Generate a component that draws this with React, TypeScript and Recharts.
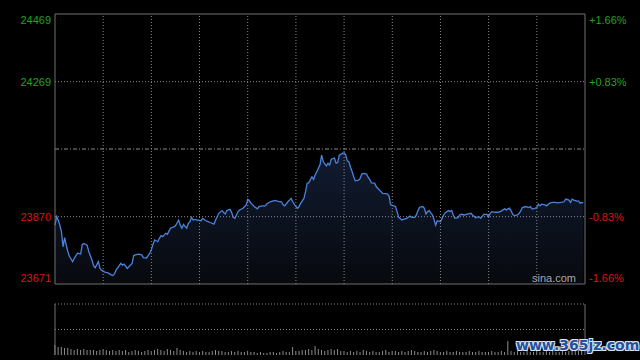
import { ComposedChart, Area, Bar, XAxis, YAxis, ReferenceLine } from 'recharts'

// Hang Seng intraday, minutes since 09:30 (330 trading minutes)
const minutes = [
  0, 1, 2, 3, 4, 5, 6, 7, 8, 9,
  11, 12, 14, 16, 17, 18, 20, 21, 23, 24,
  25, 27, 28, 29, 31, 33, 35, 36, 37, 38,
  40, 41, 42, 43, 45, 46, 48, 49, 50, 52,
  54, 55, 57, 59, 60, 61, 62, 64, 65, 66,
  67, 69, 70, 71, 72, 74, 75, 77, 78, 79,
  80, 82, 83, 84, 85, 86, 87, 89, 91, 92,
  94, 95, 97, 99, 100, 102, 104, 105, 106, 107,
  109, 110, 111, 112, 114, 115, 117, 119, 120, 121,
  122, 124, 126, 127, 129, 131, 132, 134, 136, 137,
  139, 141, 142, 143, 145, 146, 147, 148, 150, 151,
  152, 153, 155, 156, 157, 158, 160, 161, 162, 163,
  165, 166, 167, 168, 169, 170, 171, 172, 174, 175,
  176, 177, 179, 180, 181, 182, 183, 184, 185, 186,
  187, 189, 190, 191, 192, 194, 195, 196, 197, 199,
  200, 202, 203, 204, 206, 207, 208, 209, 211, 212,
  213, 214, 216, 217, 219, 220, 221, 222, 224, 225,
  226, 227, 229, 230, 231, 232, 233, 235, 236, 237,
  238, 240, 241, 242, 243, 245, 246, 247, 248, 249,
  251, 252, 253, 255, 256, 259, 260, 262, 264, 265,
  267, 269, 270, 271, 272, 274, 276, 278, 280, 281,
  283, 284, 285, 286, 288, 289, 290, 291, 293, 295,
  296, 297, 298, 300, 301, 302, 303, 305, 306, 308,
  310, 311, 313, 315, 317, 318, 320, 321, 322, 323,
  325, 326, 327, 328, 329,
]

const prices = [
  23845, 23870, 23860, 23845, 23826, 23781, 23808, 23786, 23767, 23752,
  23737, 23747, 23762, 23760, 23788, 23791, 23786, 23767, 23742, 23725,
  23719, 23737, 23717, 23712, 23706, 23704, 23698, 23696, 23700, 23712,
  23725, 23732, 23727, 23730, 23717, 23722, 23732, 23755, 23757, 23759,
  23757, 23749, 23748, 23762, 23772, 23788, 23801, 23796, 23806, 23814,
  23811, 23821, 23818, 23828, 23836, 23840, 23843, 23860, 23845, 23836,
  23847, 23836, 23850, 23855, 23868, 23860, 23862, 23860, 23858, 23865,
  23858, 23856, 23852, 23848, 23860, 23880, 23888, 23882, 23878, 23888,
  23892, 23882, 23868, 23865, 23885, 23890, 23895, 23905, 23921, 23917,
  23910, 23900, 23893, 23900, 23902, 23902, 23908, 23914, 23917, 23918,
  23915, 23914, 23905, 23902, 23914, 23919, 23924, 23914, 23900, 23895,
  23900, 23910, 23924, 23944, 23969, 23970, 23988, 23980, 23993, 24003,
  24023, 24052, 24033, 24026, 24020, 24028, 24023, 24040, 24043, 24028,
  24030, 24052, 24057, 24059, 24052, 24035, 24032, 24016, 24003, 23988,
  23976, 23978, 23983, 23996, 23998, 23996, 23986, 23980, 23970, 23969,
  23959, 23949, 23944, 23939, 23938, 23937, 23931, 23905, 23902, 23900,
  23885, 23868, 23860, 23862, 23865, 23868, 23872, 23868, 23868, 23875,
  23888, 23898, 23900, 23895, 23878, 23885, 23888, 23875, 23862, 23845,
  23858, 23855, 23865, 23875, 23882, 23888, 23885, 23888, 23875, 23865,
  23867, 23875, 23877, 23875, 23877, 23880, 23875, 23867, 23870, 23865,
  23877, 23877, 23870, 23880, 23885, 23883, 23883, 23887, 23893, 23890,
  23895, 23887, 23877, 23873, 23875, 23880, 23887, 23897, 23900, 23897,
  23900, 23893, 23893, 23897, 23907, 23902, 23907, 23905, 23902, 23910,
  23912, 23912, 23911, 23912, 23914, 23922, 23919, 23912, 23922, 23919,
  23916, 23916, 23910, 23912, 23911,
]

// volume per 2-minute bucket (relative units)
const volumes = [
  10, 8, 8, 7, 7,
  6, 5, 6, 5, 6, 5, 5,
  5, 4, 5, 6, 5, 4, 5, 4, 5,
  4, 5, 3, 4, 5, 4, 3, 4, 5, 4, 5, 6, 5, 4, 6, 5, 4,
  7,
  5, 4, 3, 4, 3, 4, 3, 4, 3, 3, 4,
  5, 4, 4, 3, 3, 4, 3, 4, 3, 3, 4, 3, 3, 2, 3,
  2, 2, 3, 3, 2, 3, 4, 3, 3,
  8,
  4, 4, 5, 5, 6, 5,
  9,
  6, 5, 4, 5, 6, 5, 6,
  4, 4, 3, 4, 3, 4, 3, 5, 4, 3, 4, 3, 3, 4, 5, 3, 4,
  4, 3, 4, 3, 4, 5, 4, 3, 3, 4, 3, 4, 5, 4, 3,
  3, 4, 3, 3, 4, 3, 3, 3, 4, 3, 3, 4, 3, 3, 3, 4, 3, 3, 4, 3,
  14,
  4, 3, 4, 3, 3, 4, 3, 3, 4, 3, 3, 4, 3, 4, 3, 3, 4, 3, 4, 4, 5, 5, 6,
]

const prevClose = 24070
const priceTicks = [23671, 23870, 24269, 24469]
const timeTicks = [30, 60, 90, 120, 150, 180, 210, 240, 270, 300]

const lineData = minutes.map((m, i) => ({ m, price: prices[i] }))
const volData = volumes.map((v, i) => ({ m: i * 2, vol: v }))

const GREEN = '#22a022'
const RED = '#dc1414'
const GRID = '#8a8a8a'
const BORDER = '#707070'
const FONT = '"Liberation Sans", Arial, sans-serif'

function dyFor(v: number) {
  if (v === priceTicks[priceTicks.length - 1]) return 6
  if (v === priceTicks[0]) return -6
  return 0
}

// draws the price on the left and the change vs. previous close on the right
function PriceTick(props: any) {
  const { y, payload } = props
  const v = payload.value
  const pct = ((v - prevClose) / prevClose) * 100
  const s = (pct > 0 ? '+' : '') + pct.toFixed(2) + '%'
  const color = v > prevClose ? GREEN : RED
  return (
    <g>
      <text x={51} y={y + dyFor(v)} textAnchor="end" dominantBaseline="central"
        fill={color} fontSize={11} fontFamily={FONT}>{v}</text>
      <text x={589} y={y + dyFor(v)} textAnchor="start" dominantBaseline="central"
        fill={color} fontSize={11} fontFamily={FONT}>{s}</text>
    </g>
  )
}

export default function App() {
  return (
    <div style={{ position: 'absolute', left: 0, top: 0, width: 640, height: 360, background: '#000', overflow: 'hidden' }}>
      <div style={{ position: 'absolute', left: 0, top: 0 }}>
        <ComposedChart width={640} height={300} data={lineData} margin={{ top: 14, right: 55, bottom: 16, left: 0 }}>
          <defs>
            <linearGradient id="areaFill" x1="0" y1="0" x2="0" y2="1">
              <stop offset="0%" stopColor="#111b31" stopOpacity={1} />
              <stop offset="100%" stopColor="#07090e" stopOpacity={1} />
            </linearGradient>
          </defs>
          <XAxis dataKey="m" type="number" domain={[0, 330]} hide />
          <YAxis orientation="left" width={55} domain={[23671, 24469]} ticks={priceTicks}
            interval={0} axisLine={false} tickLine={false} tick={<PriceTick />} />
          <Area type="linear" dataKey="price" stroke="#4a82dc" strokeWidth={1.3}
            fill="url(#areaFill)" fillOpacity={1} dot={false} activeDot={false} isAnimationActive={false} />
          {timeTicks.map(t => (
            <ReferenceLine key={t} x={t} stroke={GRID} strokeDasharray="1 2" />
          ))}
          <ReferenceLine y={24269} stroke={GRID} strokeDasharray="1 2" />
          <ReferenceLine y={23870} stroke={GRID} strokeDasharray="1 2" />
          <ReferenceLine y={prevClose} stroke={GRID} strokeDasharray="4 2 1 2" />
          <ReferenceLine y={24469} stroke={BORDER} />
          <ReferenceLine y={23671} stroke={BORDER} />
          <ReferenceLine x={0} stroke={BORDER} />
          <ReferenceLine x={330} stroke={BORDER} />
        </ComposedChart>
      </div>
      <div style={{ position: 'absolute', left: 532, top: 272, color: '#a8a8a8', fontSize: 11, fontFamily: FONT }}>sina.com</div>
      <div style={{ position: 'absolute', left: 0, top: 300 }}>
        <ComposedChart width={640} height={56} data={volData} margin={{ top: 4, right: 55, bottom: 1, left: 55 }}>
          <XAxis dataKey="m" type="number" domain={[0, 330]} hide />
          <YAxis domain={[0, 51]} hide />
          <Bar dataKey="vol" fill="#8c8c8c" barSize={1} isAnimationActive={false} />
          <ReferenceLine y={51} stroke={GRID} strokeDasharray="1 2" />
          <ReferenceLine y={25.5} stroke={GRID} strokeDasharray="1 2" />
          <ReferenceLine x={0} stroke={BORDER} />
          <ReferenceLine x={330} stroke={BORDER} />
        </ComposedChart>
      </div>
      <div style={{
        position: 'absolute', left: 516, top: 337, fontSize: 14, fontWeight: 'bold',
        fontFamily: '"DejaVu Sans", sans-serif', color: '#23509e', whiteSpace: 'nowrap',
        textShadow: '1px 1px 0 #dde4ee, -1px -1px 0 #dde4ee, 1px -1px 0 #dde4ee, -1px 1px 0 #dde4ee',
      }}>www.365jz.com</div>
    </div>
  )
}
